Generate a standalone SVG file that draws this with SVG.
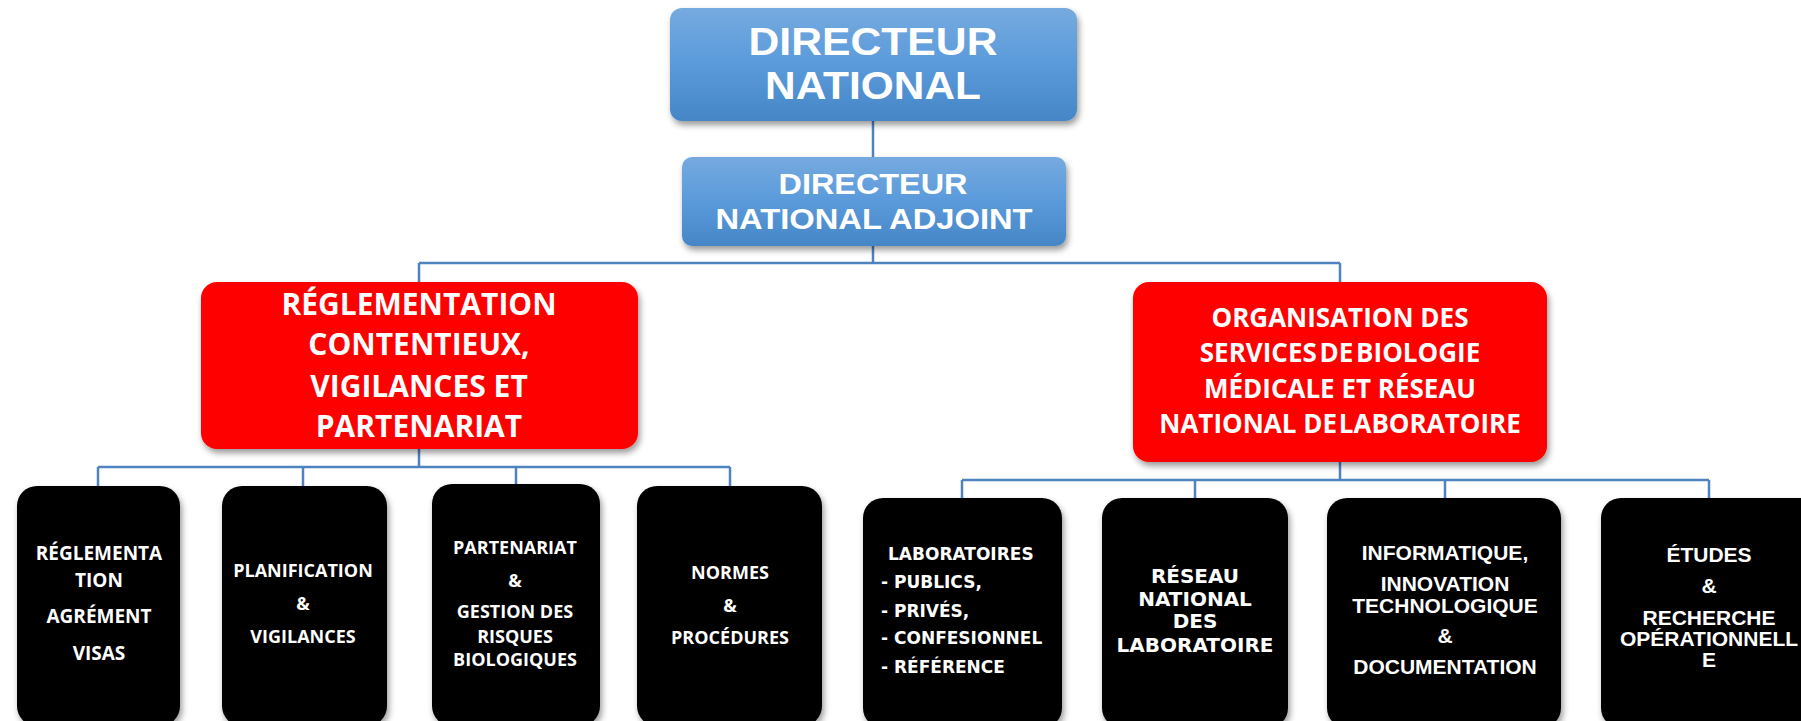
<svg xmlns="http://www.w3.org/2000/svg" width="1801" height="721" viewBox="0 0 1801 721">
<defs>
<linearGradient id="blue" x1="0" y1="0" x2="0" y2="1">
<stop offset="0" stop-color="#76AADF"/>
<stop offset="0.5" stop-color="#5A9ADB"/>
<stop offset="1" stop-color="#4686C6"/>
</linearGradient>
<filter id="sh" x="-10%" y="-10%" width="125%" height="130%">
<feDropShadow dx="2" dy="4" stdDeviation="3" flood-color="#000" flood-opacity="0.4"/>
</filter>
<style>
.ln{stroke:#4F83C0;stroke-width:2.5;fill:none}
.blue{fill:url(#blue);filter:url(#sh)}
.red{fill:#FF0000;filter:url(#sh)}
.blk{fill:#000;filter:url(#sh)}
.t{fill:#fff;text-anchor:middle}
.ar{font-family:"Liberation Sans",Arial,sans-serif}
.cal{font-family:"Open Sans","Liberation Sans",sans-serif;font-weight:700}
.ver{font-family:"DejaVu Sans",Verdana,sans-serif;font-weight:700}
</style>
</defs>
<g id="connectors">
<path class="ln" d="M873 121V157M873 246V263M419 263H1340M419 263V282M1340 263V282"/>
<path class="ln" d="M419 449V467M98 467H730M98 467V486M303 467V486M516 467V484M730 467V486"/>
<path class="ln" d="M1340 462V480M962 480H1709M962 480V498M1195 480V498M1445 480V498M1709 480V498"/>
</g>
<g id="directeur-national">
<rect class="blue" x="670" y="8" width="407" height="113" rx="12"/>
<text class="t ar" font-size="38" font-weight="700" x="873" y="55" textLength="249" lengthAdjust="spacingAndGlyphs">DIRECTEUR</text>
<text class="t ar" font-size="38" font-weight="700" x="873" y="99" textLength="216" lengthAdjust="spacingAndGlyphs">NATIONAL</text>
</g>
<g id="directeur-adjoint">
<rect class="blue" x="682" y="157" width="384" height="89" rx="10"/>
<text class="t ar" font-size="29" font-weight="700" x="873" y="194" textLength="189" lengthAdjust="spacingAndGlyphs">DIRECTEUR</text>
<text class="t ar" font-size="29" font-weight="700" x="874" y="229" textLength="317" lengthAdjust="spacingAndGlyphs">NATIONAL ADJOINT</text>
</g>
<g id="reglementation">
<rect class="red" x="201" y="282" width="437" height="167" rx="16"/>
<text class="t cal" font-size="30"><tspan x="419" y="315">RÉGLEMENTATION</tspan><tspan x="419" y="355">CONTENTIEUX,</tspan><tspan x="419" y="397">VIGILANCES ET</tspan><tspan x="419" y="437">PARTENARIAT</tspan></text>
</g>
<g id="organisation">
<rect class="red" x="1133" y="282" width="414" height="180" rx="16"/>
<text class="t cal" font-size="26"><tspan x="1340" y="327">ORGANISATION DES</tspan><tspan x="1340" y="362" word-spacing="-4">SERVICES DE BIOLOGIE</tspan><tspan x="1340" y="398">MÉDICALE ET RÉSEAU</tspan><tspan x="1340" y="433">NATIONAL DE<tspan dx="-5"> LABORATOIRE</tspan></tspan></text>
</g>
<g id="n1">
<rect class="blk" x="17" y="486" width="163" height="240" rx="20"/>
<text class="t cal" font-size="19"><tspan x="99" y="560">RÉGLEMENTA</tspan><tspan x="99" y="587">TION</tspan><tspan x="99" y="623">AGRÉMENT</tspan><tspan x="99" y="660">VISAS</tspan></text>
</g>
<g id="n2">
<rect class="blk" x="222" y="486" width="165" height="240" rx="20"/>
<text class="t cal" font-size="18"><tspan x="303" y="577">PLANIFICATION</tspan><tspan x="303" y="610">&amp;</tspan><tspan x="303" y="643">VIGILANCES</tspan></text>
</g>
<g id="n3">
<rect class="blk" x="432" y="484" width="168" height="242" rx="20"/>
<text class="t cal" font-size="18"><tspan x="515" y="554">PARTENARIAT</tspan><tspan x="515" y="587">&amp;</tspan><tspan x="515" y="618">GESTION DES</tspan><tspan x="515" y="643">RISQUES</tspan><tspan x="515" y="666">BIOLOGIQUES</tspan></text>
</g>
<g id="n4">
<rect class="blk" x="637" y="486" width="185" height="240" rx="20"/>
<text class="t cal" font-size="18"><tspan x="730" y="579">NORMES</tspan><tspan x="730" y="612">&amp;</tspan><tspan x="730" y="644">PROCÉDURES</tspan></text>
</g>
<g id="n5">
<rect class="blk" x="863" y="498" width="199" height="230" rx="20"/>
<text class="ver" fill="#fff" font-size="17"><tspan x="888" y="560">LABORATOIRES</tspan><tspan x="881" y="588">- PUBLICS,</tspan><tspan x="881" y="617">- PRIVÉS,</tspan><tspan x="881" y="644">- CONFESIONNEL</tspan><tspan x="881" y="673">- RÉFÉRENCE</tspan></text>
</g>
<g id="n6">
<rect class="blk" x="1102" y="498" width="186" height="230" rx="20"/>
<text class="t ver" font-size="20"><tspan x="1195" y="583">RÉSEAU</tspan><tspan x="1195" y="606">NATIONAL</tspan><tspan x="1195" y="628">DES</tspan><tspan x="1195" y="652">LABORATOIRE</tspan></text>
</g>
<g id="n7">
<rect class="blk" x="1327" y="498" width="234" height="230" rx="20"/>
<text class="t ar" font-size="21" font-weight="700"><tspan x="1445" y="560">INFORMATIQUE,</tspan><tspan x="1445" y="591">INNOVATION</tspan><tspan x="1445" y="613">TECHNOLOGIQUE</tspan><tspan x="1445" y="643">&amp;</tspan><tspan x="1445" y="674">DOCUMENTATION</tspan></text>
</g>
<g id="n8">
<rect class="blk" x="1601" y="498" width="220" height="230" rx="20"/>
<text class="t ar" font-size="21" font-weight="700"><tspan x="1709" y="562">ÉTUDES</tspan><tspan x="1709" y="593">&amp;</tspan><tspan x="1709" y="625">RECHERCHE</tspan><tspan x="1709" y="646">OPÉRATIONNELL</tspan><tspan x="1709" y="667">E</tspan></text>
</g>
</svg>
